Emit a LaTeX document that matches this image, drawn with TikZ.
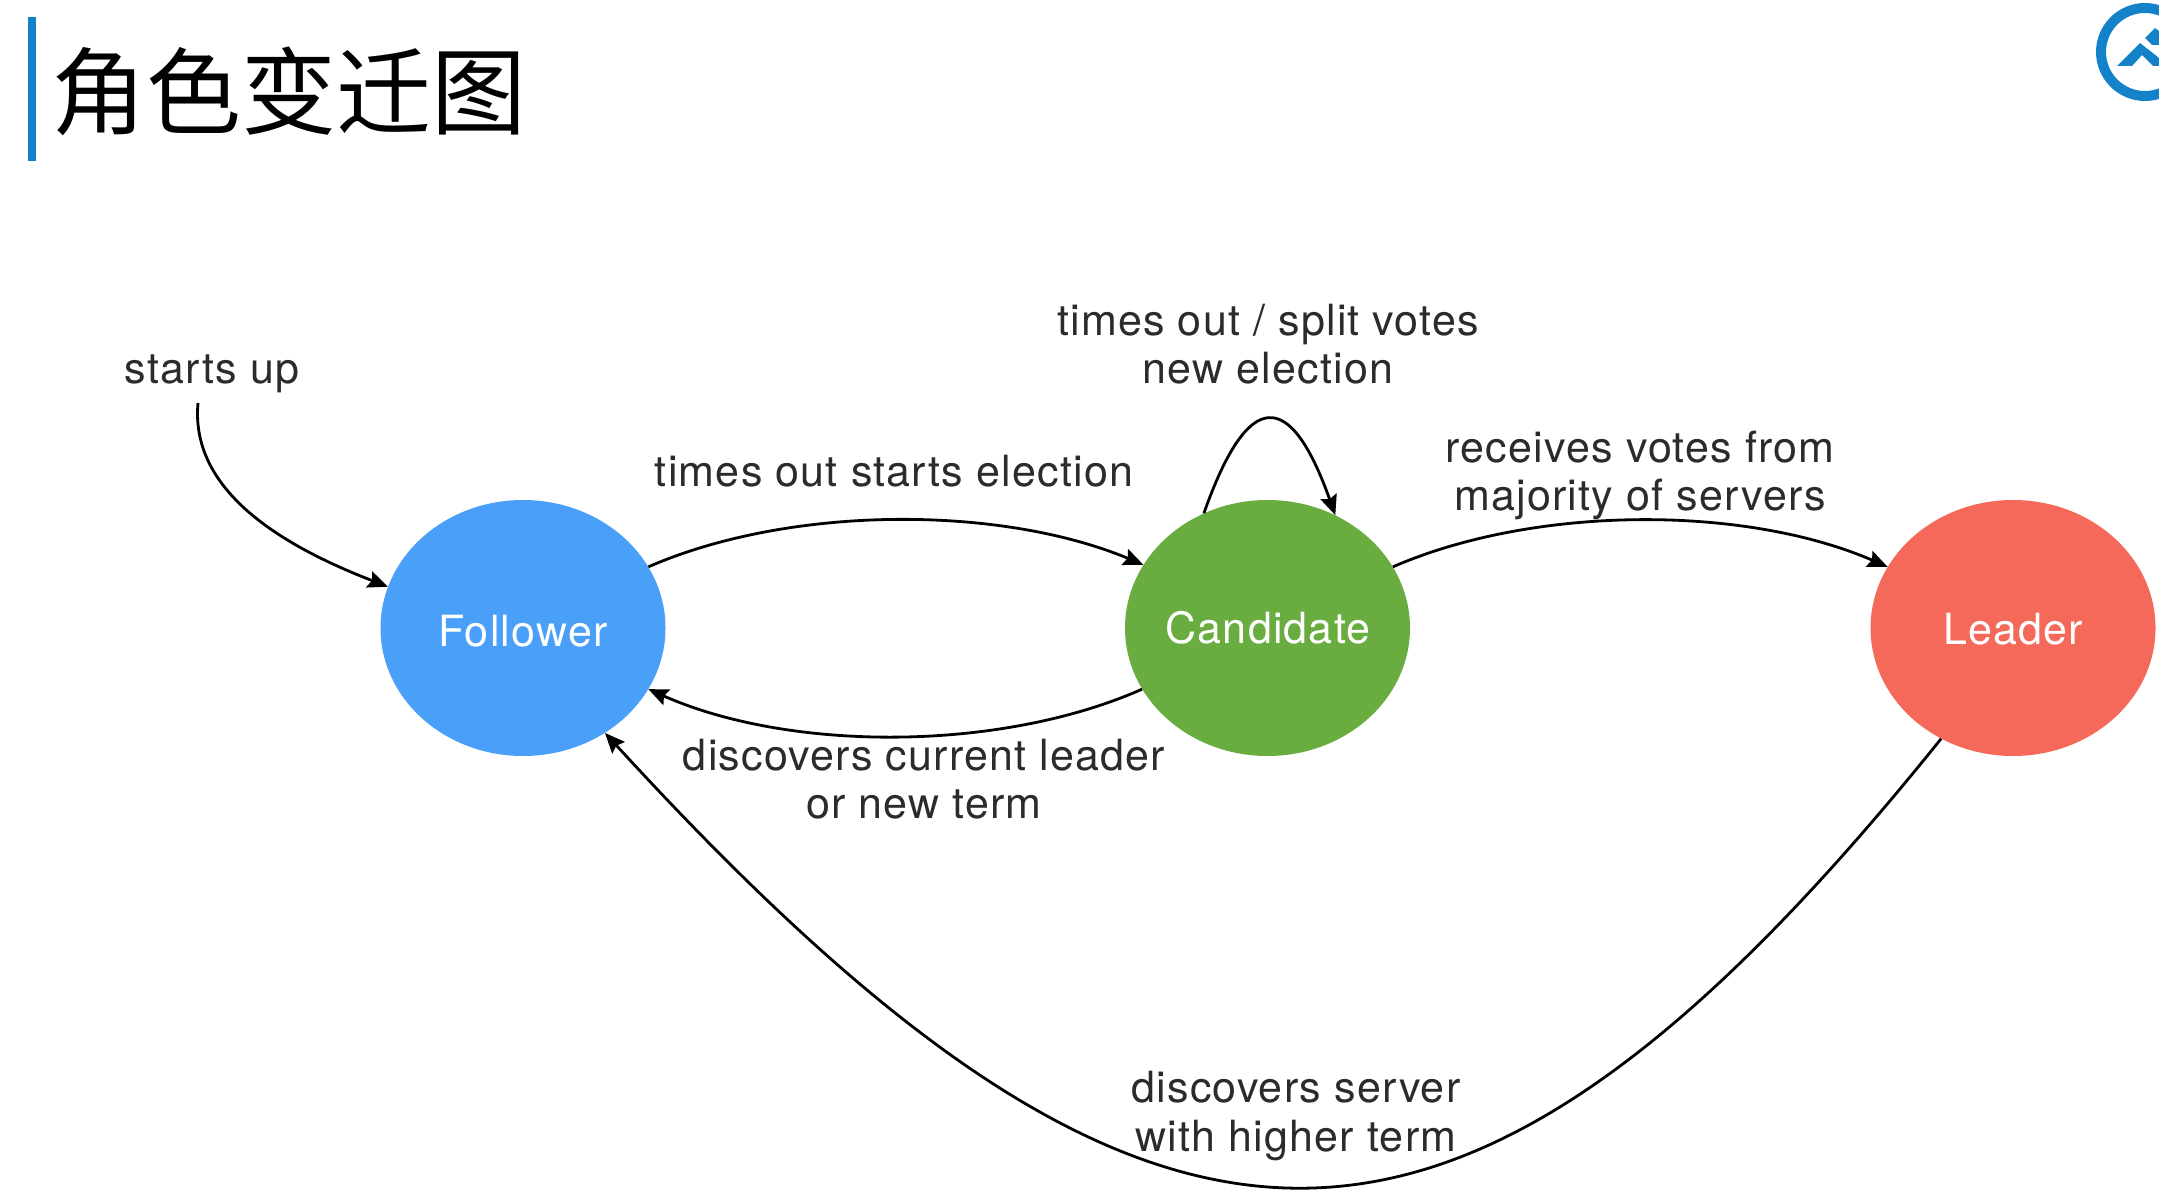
\documentclass[tikz,border=0pt]{standalone}
\usepackage{fontspec}
\setmainfont[LetterSpace=2.8]{TeX Gyre Heros}
\newfontfamily\cjkfont{Noto Sans CJK SC}
\usetikzlibrary{shapes.geometric,arrows.meta}
\definecolor{barblue}{HTML}{1482C8}
\definecolor{follower}{HTML}{4A9FF8}
\definecolor{candidate}{HTML}{69AD40}
\definecolor{leader}{HTML}{F5695B}
\definecolor{labelgray}{HTML}{2B2B2B}
\tikzset{
  statenode/.style={ellipse,minimum width=285pt,minimum height=256pt,inner sep=0pt},
  statelabel/.style={text=white,inner sep=0pt,font=\fontsize{43}{48}\selectfont},
  caption/.style={align=center,inner sep=0pt,text=labelgray,font=\fontsize{43}{48}\selectfont},
  flow/.style={draw=black,line width=2.8pt,-{Stealth[length=20pt,width=17pt,inset=3pt]}}
}
\begin{document}
\begin{tikzpicture}[x=1pt,y=-1pt]
\useasboundingbox (0,0) rectangle (2159,1201);
\fill[white] (0,0) rectangle (2159,1201);
\fill[barblue] (27.5,17) rectangle (36,161);
\node[inner sep=0pt,font=\fontsize{95}{100}\selectfont\cjkfont] (title) at (289,91) {角色变迁图};
\begin{scope}
\clip (2000,0) rectangle (2159,120);
\draw[barblue,line width=10pt] (2145,52) circle[radius=44pt];
\fill[barblue] (2117,66)--(2140,43)--(2159,58)--(2159,66)--(2153,66)--(2142,55)--(2132,66)--cycle;
\fill[barblue] (2145,38)--(2155,28)--(2159,31)--(2159,45)--(2152,45)--cycle;
\end{scope}
\node[statenode,fill=follower] (f) at (523,628) {};
\node[statenode,fill=candidate] (c) at (1267.5,628) {};
\node[statenode,fill=leader] (l) at (2013,628) {};
\node[statelabel] (ft) at (523,631) {Follower};
\node[statelabel] (ct) at (1268,628) {Candidate};
\node[statelabel] (lt) at (2013,629) {Leader};
\node[caption] (t1) at (212,374) {starts up};
\node[caption] (t2) at (894,471) {times out starts election};
\node[caption] (t3) at (1268,344) {times out / split votes\\new election};
\node[caption] (t4) at (1640,475) {receives votes from\\majority of servers};
\node[caption] (t5) at (924,779) {discovers current leader\\or new term};
\node[caption] (t6) at (1296,1116) {discovers server\\with higher term};
\coordinate (s) at (198,403);
\draw[flow] (s) .. controls (190,490) and (280,545) .. (f.163.6);
\draw[flow] (f.26.3) .. controls (790,505) and (1000,505) .. (c.153.5);
\draw[flow] (c.206.5) .. controls (1000,752) and (790,752) .. (f.-26.3);
\draw[flow] (c.119.8) .. controls (1248,388) and (1290,388) .. (c.59.5);
\draw[flow] (c.26) .. controls (1535,505) and (1745,505) .. (l.154);
\draw[flow] (l.237.3) .. controls (1460,1337) and (1158,1337) .. (f.-52.9);
\end{tikzpicture}
\end{document}
